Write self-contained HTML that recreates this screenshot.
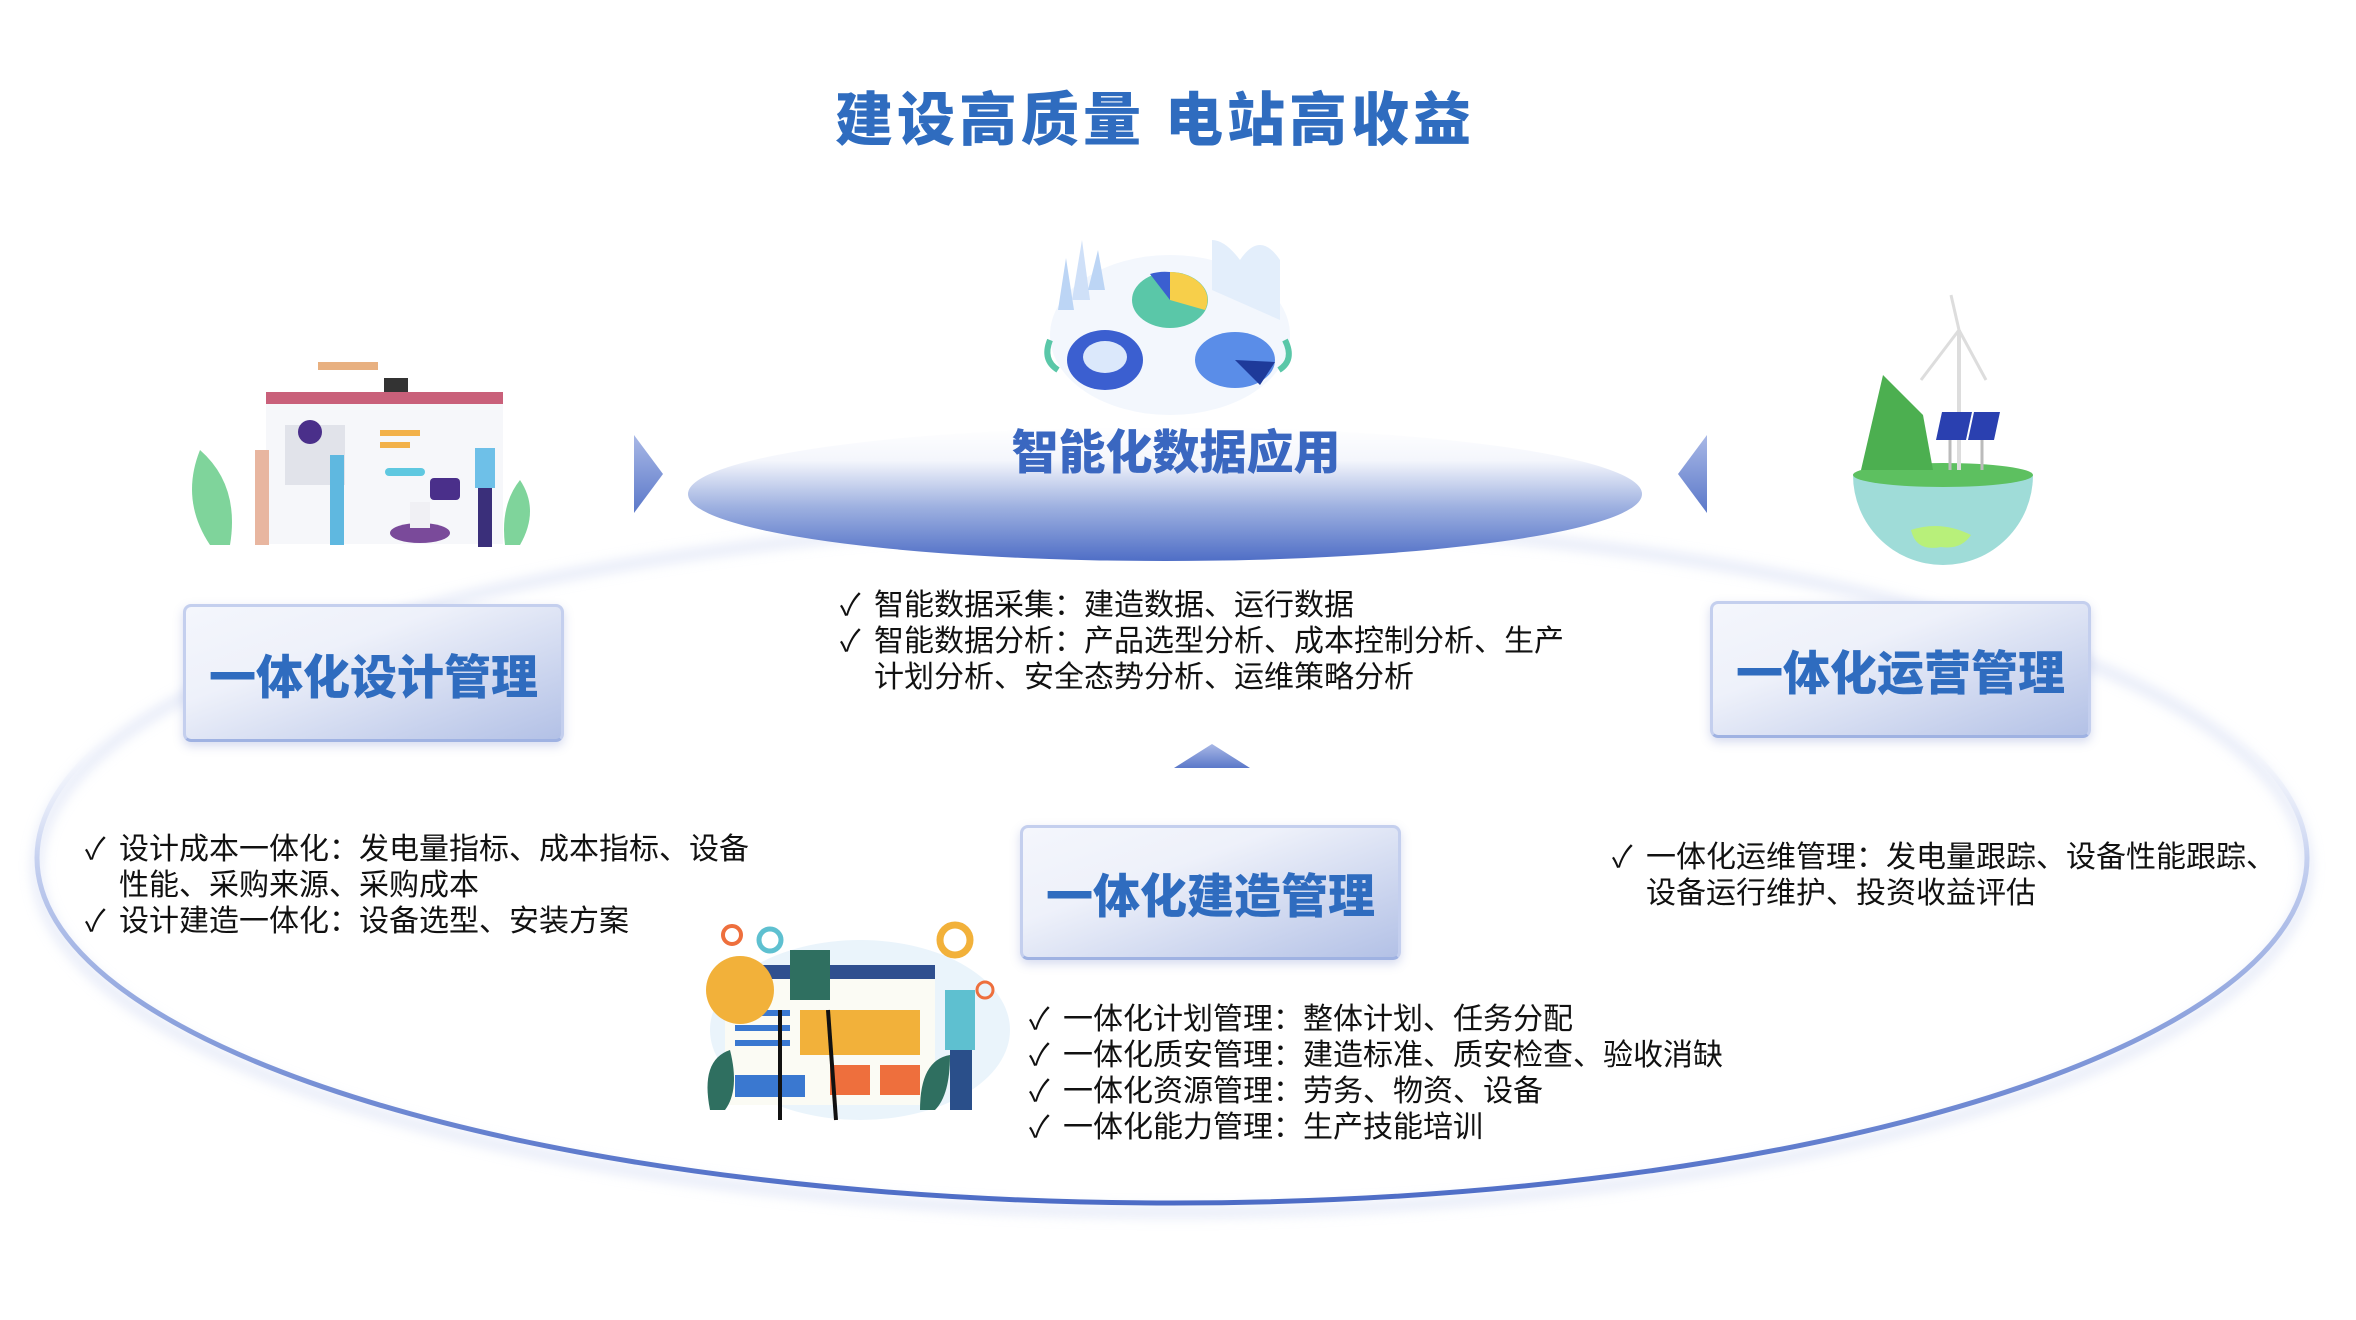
<!DOCTYPE html>
<html><head><meta charset="utf-8"><style>
body{margin:0;width:2356px;height:1320px;background:#fff;position:relative;overflow:hidden;font-family:"Liberation Sans","Noto Sans CJK SC",sans-serif}
.a{position:absolute}
.title{left:0;width:2310px;top:83px;text-align:center;font-size:58px;font-weight:900;color:#2f6cbf;letter-spacing:4px;line-height:76px}
.box{position:absolute;border-radius:8px;background:linear-gradient(160deg,#f4f6fc 0%,#eef1fa 35%,#b3c1e6 100%);border:3px solid #c4cfee;border-bottom-color:#9fb2e2;box-shadow:0 4px 10px rgba(90,110,190,.25);box-sizing:border-box}
.box span{position:absolute;left:0;right:0;top:0;bottom:0;display:flex;align-items:center;justify-content:center;font-size:47px;font-weight:900;color:#2f6cbf}
.list{position:absolute;font-size:30px;line-height:36px;color:#111;white-space:nowrap}
.list div{padding-left:34px;text-indent:-34px}
.list div b{display:inline-block;width:34px;text-indent:0;font-weight:normal}
</style></head><body>
<svg class="a" style="left:0;top:0" width="2356" height="1320">
<defs>
<linearGradient id="ring" x1="0" y1="0" x2="0" y2="1">
<stop offset="0" stop-color="#fff" stop-opacity="0"/>
<stop offset="0.3" stop-color="#fff" stop-opacity="0"/>
<stop offset="0.5" stop-color="#c6d1f0"/>
<stop offset="0.75" stop-color="#8aa0dc"/>
<stop offset="1" stop-color="#4d6cc6"/>
</linearGradient>
<linearGradient id="top" x1="0" y1="0" x2="0" y2="1">
<stop offset="0" stop-color="#fff"/>
<stop offset="0.25" stop-color="#f4f6fc"/>
<stop offset="0.6" stop-color="#9db0e0"/>
<stop offset="1" stop-color="#4f6ec6"/>
</linearGradient>
<linearGradient id="tri" x1="0" y1="0" x2="0" y2="1"><stop offset="0" stop-color="#a9b8e6"/><stop offset="1" stop-color="#5b78c9"/></linearGradient>
<filter id="bl"><feGaussianBlur stdDeviation="6"/></filter>
</defs>
<ellipse cx="1172" cy="867" rx="1135" ry="345" fill="none" stroke="#c9d3f0" stroke-width="10" opacity=".5" filter="url(#bl)"/>
<ellipse cx="1172" cy="858" rx="1135" ry="345" fill="none" stroke="url(#ring)" stroke-width="5"/>
<ellipse cx="1165" cy="494" rx="477" ry="67" fill="url(#top)"/>
<polygon points="634,435 663,474 634,513" fill="url(#tri)"/>
<polygon points="1707,435 1678,474 1707,513" fill="url(#tri)"/>
<polygon points="1212,744 1250,768 1174,768" fill="url(#tri)"/>
<!-- data charts -->
<ellipse cx="1170" cy="335" rx="120" ry="80" fill="#f3f7fd"/>
<polygon points="1058,310 1066,258 1074,310" fill="#bcd5f5"/><polygon points="1072,300 1082,240 1090,300" fill="#cfe0f8"/><polygon points="1088,290 1098,250 1105,290" fill="#bcd5f5"/>
<path d="M1212,240 l0,50 l68,30 l0,-60 q-20,-30 -40,0 q-15,-20 -28,-20z" fill="#e3eefb"/>
<ellipse cx="1170" cy="300" rx="38" ry="28" fill="#5ac7a8"/><path d="M1170,300 L1170,272 A38,28 0 0 1 1205,310z" fill="#f7cf4a"/><path d="M1170,300 L1150,274 A38,28 0 0 1 1170,272z" fill="#3b5fd0"/>
<ellipse cx="1105" cy="360" rx="38" ry="30" fill="#3b5fd0"/><ellipse cx="1105" cy="357" rx="22" ry="16" fill="#dbe8fb"/>
<ellipse cx="1235" cy="360" rx="40" ry="28" fill="#5a8de8"/><path d="M1235,360 L1275,362 L1260,385z" fill="#1e3a9a"/>
<path d="M1050,340 q-8,20 8,30" stroke="#5ac7a8" stroke-width="6" fill="none"/><path d="M1285,340 q10,20 -6,30" stroke="#5ac7a8" stroke-width="6" fill="none"/>
<!-- design illustration -->
<rect x="266" y="392" width="237" height="12" fill="#c9607a"/><rect x="266" y="404" width="237" height="140" fill="#f6f7fa"/>
<rect x="285" y="425" width="60" height="60" fill="#e1e3ea"/><rect x="380" y="430" width="40" height="6" fill="#f2b14a"/><rect x="380" y="442" width="30" height="6" fill="#f2b14a"/><rect x="385" y="468" width="40" height="8" rx="4" fill="#5fc8e0"/><rect x="430" y="478" width="30" height="22" rx="4" fill="#4a2f8a"/>
<circle cx="310" cy="432" r="12" fill="#4a2f8a"/>
<path d="M200,450 q-20,50 10,95 l20,0 q10,-60 -30,-95z" fill="#7fd49b"/><path d="M520,480 q20,30 0,65 l-15,0 q-5,-40 15,-65z" fill="#7fd49b"/>
<rect x="255" y="450" width="14" height="95" fill="#e8b6a0"/><rect x="330" y="455" width="14" height="90" fill="#5fb8e0"/><rect x="478" y="452" width="14" height="95" fill="#3a2f7a"/><rect x="475" y="448" width="20" height="40" fill="#6ec0e8"/>
<ellipse cx="420" cy="533" rx="30" ry="10" fill="#7a4a9a"/><rect x="410" y="502" width="20" height="26" fill="#f0f0f4"/>
<rect x="318" y="362" width="60" height="8" fill="#e8b080"/><rect x="384" y="378" width="24" height="14" fill="#333"/>
<!-- globe -->
<path d="M1853,475 a90,90 0 0 0 180,0z" fill="#9fdcd8"/>
<ellipse cx="1943" cy="475" rx="90" ry="12" fill="#5dc060"/>
<path d="M1861,470 l22,-95 l40,40 l10,55z" fill="#4caf50"/>
<path d="M1911,530 q30,-10 60,5 q-10,15 -30,12 q-25,5 -30,-17z" fill="#b8f07a"/>
<line x1="1959" y1="330" x2="1959" y2="470" stroke="#ddd" stroke-width="4"/><line x1="1959" y1="330" x2="1951" y2="295" stroke="#ddd" stroke-width="3"/><line x1="1959" y1="330" x2="1986" y2="380" stroke="#ddd" stroke-width="3"/><line x1="1959" y1="330" x2="1921" y2="380" stroke="#ddd" stroke-width="3"/>
<polygon points="1942,412 1972,412 1966,440 1936,440" fill="#2a40b0"/><polygon points="1974,412 2000,412 1994,440 1968,440" fill="#2a40b0"/>
<line x1="1950" y1="440" x2="1950" y2="470" stroke="#bbb" stroke-width="3"/><line x1="1982" y1="440" x2="1982" y2="470" stroke="#bbb" stroke-width="3"/>
<!-- builder -->
<ellipse cx="860" cy="1030" rx="150" ry="90" fill="#eaf4fb"/>
<rect x="725" y="975" width="210" height="130" fill="#fbfbf4"/><rect x="725" y="965" width="210" height="14" fill="#2f4f8f"/>
<rect x="800" y="1010" width="120" height="45" fill="#f2b13a"/><rect x="830" y="1065" width="40" height="30" fill="#ee6f3d"/><rect x="880" y="1065" width="40" height="30" fill="#ee6f3d"/>
<rect x="735" y="1010" width="55" height="6" fill="#3a78d0"/><rect x="735" y="1025" width="55" height="6" fill="#3a78d0"/><rect x="735" y="1040" width="55" height="6" fill="#3a78d0"/><rect x="735" y="1075" width="70" height="22" fill="#3a78d0"/>
<circle cx="740" cy="990" r="34" fill="#f2b13a"/>
<line x1="780" y1="1010" x2="780" y2="1120" stroke="#111" stroke-width="4"/><line x1="828" y1="1010" x2="836" y2="1120" stroke="#111" stroke-width="4"/>
<rect x="790" y="950" width="40" height="50" fill="#2f6f60"/><rect x="945" y="990" width="30" height="60" fill="#5ec0d0"/><rect x="950" y="1050" width="22" height="60" fill="#2a4f8a"/>
<path d="M710,1110 q-10,-50 20,-60 q10,40 -5,60z" fill="#2f6f60"/><path d="M920,1110 q0,-50 30,-55 q0,40 -15,55z" fill="#2f6f60"/>
<circle cx="732" cy="935" r="9" fill="none" stroke="#ee6f3d" stroke-width="4"/><circle cx="770" cy="940" r="11" fill="none" stroke="#5ec0d0" stroke-width="5"/><circle cx="955" cy="940" r="15" fill="none" stroke="#f2b13a" stroke-width="7"/><circle cx="985" cy="990" r="8" fill="none" stroke="#ee6f3d" stroke-width="3"/>
</svg>
<div class="a title">建设高质量&nbsp;电站高收益</div>
<div class="a" style="left:891px;width:570px;top:421px;text-align:center;font-size:47px;font-weight:900;color:#3a67c0;line-height:64px">智能化数据应用</div>
<div class="box" style="left:183px;top:604px;width:381px;height:138px"><span>一体化设计管理</span></div>
<div class="box" style="left:1710px;top:601px;width:381px;height:137px"><span>一体化运营管理</span></div>
<div class="box" style="left:1020px;top:825px;width:381px;height:135px"><span>一体化建造管理</span></div>
<div class="list" style="left:840px;top:588px"><div><b>✓</b>智能数据采集：建造数据、运行数据</div><div><b>✓</b>智能数据分析：产品选型分析、成本控制分析、生产<br>计划分析、安全态势分析、运维策略分析</div></div>
<div class="list" style="left:85px;top:832px"><div><b>✓</b>设计成本一体化：发电量指标、成本指标、设备<br>性能、采购来源、采购成本</div><div><b>✓</b>设计建造一体化：设备选型、安装方案</div></div>
<div class="list" style="left:1612px;top:840px"><div><b>✓</b>一体化运维管理：发电量跟踪、设备性能跟踪、<br>设备运行维护、投资收益评估</div></div>
<div class="list" style="left:1029px;top:1002px"><div><b>✓</b>一体化计划管理：整体计划、任务分配</div><div><b>✓</b>一体化质安管理：建造标准、质安检查、验收消缺</div><div><b>✓</b>一体化资源管理：劳务、物资、设备</div><div><b>✓</b>一体化能力管理：生产技能培训</div></div>
</body></html>
